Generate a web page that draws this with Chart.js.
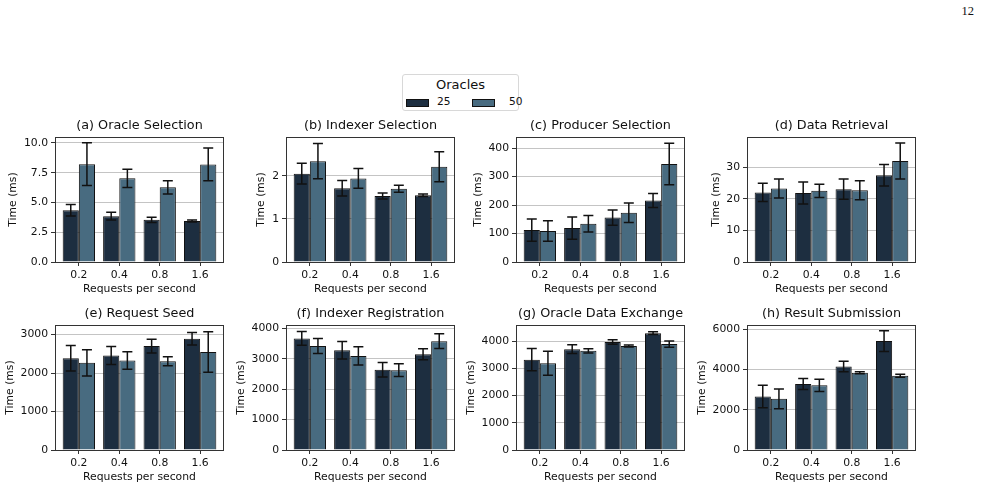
<!DOCTYPE html>
<html>
<head>
<meta charset="utf-8">
<script src="https://cdn.jsdelivr.net/npm/chart.js@4.4.0/dist/chart.umd.min.js"></script>
<style>
  body { margin: 0; background: #fff; }
  #page { position: relative; width: 981px; height: 490px; overflow: hidden; background: #fff; font-family: 'DejaVu Sans', sans-serif; }
  #page canvas { position: absolute; }
  #pageNo { position: absolute; right: 7px; top: 4px; font-family: 'Liberation Serif', 'DejaVu Serif', serif; font-size: 12.5px; color: #111; }
  #legend { position: absolute; left: 402px; top: 74px; width: 115px; height: 35px; border: 1px solid #d8d8d8; border-radius: 3px; background: #fff; }
  #legend .ttl { position: absolute; left: 0; right: 0; top: 2px; text-align: center; font-size: 13px; color: #111; }
  #legend .sw { position: absolute; top: 24px; width: 21px; height: 6px; border: 0.8px solid #111; }
  #legend .lb { position: absolute; top: 20px; font-size: 10.6px; color: #111; }
</style>
</head>
<body>
<div id="page">
  <div id="pageNo">12</div>
  <div id="legend">
    <div class="ttl">Oracles</div>
    <div class="sw" style="left:3px; background:#1d2e40"></div><div class="lb" style="left:34px">25</div>
    <div class="sw" style="left:69px; background:#486b80"></div><div class="lb" style="left:106px">50</div>
  </div>
</div>
<script>
// categories on x, same for every panel
const categories = ['0.2', '0.4', '0.8', '1.6'];
const seriesNames = ['25', '50'];

// (a) Oracle Selection
const oracleSel25 = [4.35, 3.85, 3.54, 3.45];
const oracleSel25Err = [0.48, 0.33, 0.22, 0.08];
const oracleSel50 = [8.22, 7.03, 6.27, 8.20];
const oracleSel50Err = [1.80, 0.77, 0.55, 1.38];
const oracleSelTicks = ['0.0', '2.5', '5.0', '7.5', '10.0'];

// (b) Indexer Selection
const indexerSel25 = [2.05, 1.71, 1.53, 1.55];
const indexerSel25Err = [0.24, 0.18, 0.07, 0.03];
const indexerSel50 = [2.34, 1.94, 1.70, 2.21];
const indexerSel50Err = [0.41, 0.23, 0.08, 0.35];
const indexerSelTicks = ['0', '1', '2'];

// (c) Producer Selection
const producerSel25 = [112, 119, 156, 216];
const producerSel25Err = [39, 39, 27, 25];
const producerSel50 = [109, 134, 173, 344];
const producerSel50Err = [36, 29, 34, 73];
const producerSelTicks = ['0', '100', '200', '300', '400'];

// (d) Data Retrieval
const dataRet25 = [22.0, 21.8, 23.0, 27.4];
const dataRet25Err = [2.85, 3.5, 3.2, 3.4];
const dataRet50 = [23.2, 22.5, 22.7, 31.9];
const dataRet50Err = [3.0, 2.1, 3.0, 5.7];
const dataRetTicks = ['0', '10', '20', '30'];

// (e) Request Seed
const reqSeed25 = [2385, 2455, 2700, 2890];
const reqSeed25Err = [330, 235, 180, 160];
const reqSeed50 = [2265, 2325, 2305, 2545];
const reqSeed50Err = [340, 230, 115, 525];
const reqSeedTicks = ['0', '1000', '2000', '3000'];

// (f) Indexer Registration
const indexerReg25 = [3675, 3285, 2645, 3155];
const indexerReg25Err = [228, 287, 238, 180];
const indexerReg50 = [3425, 3100, 2630, 3585];
const indexerReg50Err = [250, 298, 212, 244];
const indexerRegTicks = ['0', '1000', '2000', '3000', '4000'];

// (g) Oracle Data Exchange
const oracleEx25 = [3325, 3710, 3975, 4300];
const oracleEx25Err = [411, 163, 85, 54];
const oracleEx50 = [3190, 3650, 3830, 3900];
const oracleEx50Err = [441, 78, 36, 115];
const oracleExTicks = ['0', '1000', '2000', '3000', '4000'];

// (h) Result Submission
const resultSub25 = [2655, 3280, 4150, 5410];
const resultSub25Err = [557, 270, 262, 517];
const resultSub50 = [2540, 3215, 3835, 3690];
const resultSub50Err = [492, 303, 49, 74];
const resultSubTicks = ['0', '2000', '4000', '6000'];

const panels = [
  { title: '(a) Oracle Selection', a: oracleSel25, ae: oracleSel25Err, b: oracleSel50, be: oracleSel50Err, ticks: oracleSelTicks, max: 10.5 },
  { title: '(b) Indexer Selection', a: indexerSel25, ae: indexerSel25Err, b: indexerSel50, be: indexerSel50Err, ticks: indexerSelTicks, max: 2.9 },
  { title: '(c) Producer Selection', a: producerSel25, ae: producerSel25Err, b: producerSel50, be: producerSel50Err, ticks: producerSelTicks, max: 439 },
  { title: '(d) Data Retrieval', a: dataRet25, ae: dataRet25Err, b: dataRet50, be: dataRet50Err, ticks: dataRetTicks, max: 39.5 },
  { title: '(e) Request Seed', a: reqSeed25, ae: reqSeed25Err, b: reqSeed50, be: reqSeed50Err, ticks: reqSeedTicks, max: 3248 },
  { title: '(f) Indexer Registration', a: indexerReg25, ae: indexerReg25Err, b: indexerReg50, be: indexerReg50Err, ticks: indexerRegTicks, max: 4118 },
  { title: '(g) Oracle Data Exchange', a: oracleEx25, ae: oracleEx25Err, b: oracleEx50, be: oracleEx50Err, ticks: oracleExTicks, max: 4600 },
  { title: '(h) Result Submission', a: resultSub25, ae: resultSub25Err, b: resultSub50, be: resultSub50Err, ticks: resultSubTicks, max: 6210 },
];

const colLeft = [55, 286, 516, 747];
const rowTop = [137, 325];
const plotW = 169, plotH = 125;
const padL = 56, padT = 30, padR = 6, padB = 42;

const dark = '#1d2e40';
const light = '#486b80';
const FONT = "'DejaVu Sans', sans-serif";
Chart.defaults.font.family = FONT;
Chart.defaults.color = '#111';

// error bars, panel title, y title and the box around the plot
const extras = {
  id: 'extras',
  afterDatasetsDraw(chart) {
    const c = chart.ctx;
    const y = chart.scales.y;
    c.save();
    c.strokeStyle = '#111';
    c.lineWidth = 1.5;
    chart.data.datasets.forEach((ds, i) => {
      chart.getDatasetMeta(i).data.forEach((bar, j) => {
        const top = y.getPixelForValue(ds.data[j].y + ds.errors[j]);
        const bot = y.getPixelForValue(ds.data[j].y - ds.errors[j]);
        c.beginPath();
        c.moveTo(bar.x, top); c.lineTo(bar.x, bot);
        c.moveTo(bar.x - 5, top); c.lineTo(bar.x + 5, top);
        c.moveTo(bar.x - 5, bot); c.lineTo(bar.x + 5, bot);
        c.stroke();
      });
    });
    c.restore();
  },
  afterDraw(chart, args, opts) {
    const c = chart.ctx;
    const a = chart.chartArea;
    c.save();
    c.strokeStyle = '#333';
    c.lineWidth = 1;
    c.strokeRect(a.left + 0.5, a.top + 0.5, a.right - a.left - 1, a.bottom - a.top);

    c.fillStyle = '#111';
    c.textAlign = 'center';
    c.textBaseline = 'middle';
    c.font = '12.8px ' + FONT;
    c.fillText(opts.title, (a.left + a.right) / 2, a.top - 11);

    // y label sits left of the widest tick label
    c.font = '10.8px ' + FONT;
    const widest = Math.max(...opts.ticks.map(t => c.measureText(t).width));
    const x = a.left - (7 + widest + 4 + 6.5);
    c.translate(x, (a.top + a.bottom) / 2);
    c.rotate(-Math.PI / 2);
    c.fillText('Time (ms)', 0, 0);
    c.restore();
  }
};

function makePanel(p, idx) {
  const col = idx % 4, row = Math.floor(idx / 4);
  const canvas = document.createElement('canvas');
  canvas.width = padL + plotW + padR;
  canvas.height = padT + plotH + padB;
  canvas.style.left = (colLeft[col] - padL) + 'px';
  canvas.style.top = (rowTop[row] - padT) + 'px';
  document.getElementById('page').appendChild(canvas);

  // category index as x so the axis can keep matplotlib's side margins
  const pts = (vals) => vals.map((v, i) => ({ x: i, y: v }));

  new Chart(canvas.getContext('2d'), {
    type: 'bar',
    data: {
      datasets: [
        { label: seriesNames[0], data: pts(p.a), errors: p.ae, backgroundColor: dark, borderColor: '#111', borderWidth: 1 },
        { label: seriesNames[1], data: pts(p.b), errors: p.be, backgroundColor: light, borderColor: '#111', borderWidth: 1 }
      ]
    },
    options: {
      responsive: false,
      animation: false,
      layout: { padding: { left: 0, top: padT, right: padR, bottom: 0 } },
      datasets: { bar: { categoryPercentage: 0.8, barPercentage: 1.0 } },
      plugins: {
        legend: { display: false },
        tooltip: { enabled: false },
        extras: { title: p.title, ticks: p.ticks }
      },
      scales: {
        x: {
          type: 'linear',
          min: -0.59,
          max: categories.length - 1 + 0.59,
          offset: false,
          grid: { display: true, offset: false, drawOnChartArea: false, tickLength: 4, tickColor: '#333' },
          border: { display: false },
          ticks: { font: { size: 10.8 }, color: '#111', padding: 3, callback: (v) => categories[v] },
          afterBuildTicks: (s) => { s.ticks = categories.map((c, i) => ({ value: i })); },
          title: { display: true, text: 'Requests per second', font: { size: 10.8 }, color: '#111', padding: { top: 0, bottom: 8 } },
          afterFit: (s) => { s.height = padB; }
        },
        y: {
          min: 0,
          max: p.max,
          grid: { color: '#c4c4c4', lineWidth: 1, tickLength: 4, tickColor: '#333' },
          border: { display: false },
          ticks: { font: { size: 10.8 }, color: '#111', padding: 3, callback: (v, i) => p.ticks[i] },
          afterBuildTicks: (s) => { s.ticks = p.ticks.map(t => ({ value: Number(t) })); },
          afterFit: (s) => { s.width = padL; }
        }
      }
    },
    plugins: [extras]
  });
}

panels.forEach(makePanel);
</script>
</body>
</html>
